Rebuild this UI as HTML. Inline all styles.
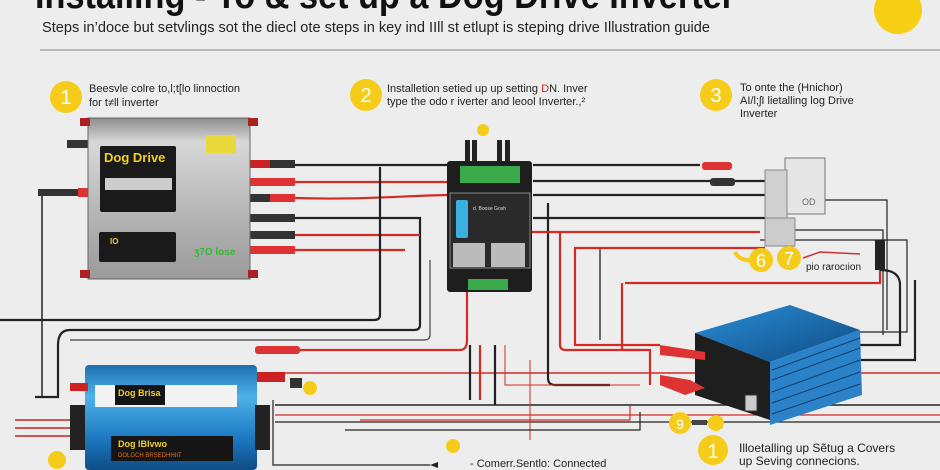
<!DOCTYPE html>
<html><head><meta charset="utf-8"><style>
html,body{margin:0;padding:0;background:#ededed;}
svg{display:block}
text{font-family:"Liberation Sans",sans-serif;}
</style></head><body>
<svg width="940" height="470" viewBox="0 0 940 470" xmlns="http://www.w3.org/2000/svg">
<defs>
<linearGradient id="silver" x1="0" y1="0" x2="0" y2="1"><stop offset="0" stop-color="#8c8c8c"/><stop offset="0.15" stop-color="#d8d8d8"/><stop offset="0.6" stop-color="#b5b5b5"/><stop offset="1" stop-color="#9a9a9a"/></linearGradient>
<linearGradient id="blue" x1="0" y1="0" x2="0" y2="1"><stop offset="0" stop-color="#1d6fb0"/><stop offset="0.3" stop-color="#4fb2ea"/><stop offset="0.7" stop-color="#1c78c0"/><stop offset="1" stop-color="#0f4d85"/></linearGradient>
<linearGradient id="blue2" x1="0" y1="0" x2="1" y2="1"><stop offset="0" stop-color="#2a8fd6"/><stop offset="1" stop-color="#0e4a84"/></linearGradient>
</defs>
<rect width="940" height="470" fill="#ededed"/>
<!-- title -->
<text x="35" y="8" font-size="38" font-weight="bold" fill="#111" textLength="700" lengthAdjust="spacingAndGlyphs">Installing - To &amp; set up a Dog Drive Inverter</text>
<text x="42" y="32" font-size="14.5" fill="#222" textLength="668" lengthAdjust="spacingAndGlyphs">Steps in’doce but setvlings sot the diecl ote steps in key ind IIll st etlupt is steping drive Illustration guide</text>
<circle cx="898" cy="10" r="24" fill="#f7cf14"/>
<line x1="40" y1="50" x2="940" y2="50" stroke="#aaa" stroke-width="1.5"/>
<!-- steps -->
<circle cx="66" cy="97" r="16" fill="#f6cc1a"/><text x="66" y="104" font-size="20" fill="#fff" text-anchor="middle">1</text>
<text x="89" y="92" font-size="11" fill="#222">Beesvle colre to,l;t[lo linnoction</text>
<text x="89" y="106" font-size="11" fill="#222">for t≠ll inverter</text>
<circle cx="366" cy="95" r="16" fill="#f6cc1a"/><text x="366" y="102" font-size="20" fill="#fff" text-anchor="middle">2</text>
<text x="387" y="92" font-size="11" fill="#222">Installetion setied up up setting <tspan fill="#d22">D</tspan>N.  Inver</text>
<text x="387" y="105" font-size="11" fill="#222">type the odo r iverter and leool  Inverter.,²</text>
<circle cx="716" cy="95" r="16" fill="#f6cc1a"/><text x="716" y="102" font-size="20" fill="#fff" text-anchor="middle">3</text>
<text x="740" y="91" font-size="11" fill="#222">To onte the (Hnichor)</text>
<text x="740" y="104" font-size="11" fill="#222">AI/l;ʃI lietalling log Drive</text>
<text x="740" y="117" font-size="11" fill="#222">Inverter</text>

<!-- wires -->
<g fill="none" stroke-width="2.2">
<path d="M295 165 H447" stroke="#222"/>
<path d="M295 182 H447" stroke="#d42a24"/>
<path d="M295 198 C360 200 400 196 447 195" stroke="#d42a24"/>
<path d="M295 218 H420 V325 Q420 330 414 330 H70 Q58 330 58 345 V397 H35" stroke="#222"/>
<path d="M295 235 H420" stroke="#d42a24"/>
<path d="M295 250 H405" stroke="#d42a24"/>
<path d="M380 167 V315 Q380 320 374 320 H0" stroke="#222"/>
<path d="M430 260 V335 Q430 340 424 340 H70" stroke="#444" stroke-width="1.2"/>
<path d="M42 192 V397" stroke="#222" stroke-width="1.5"/>
<path d="M300 350 H460 Q467 350 467 340 V292" stroke="#d42a24"/>
<path d="M270 373 H940" stroke="#d42a24" stroke-width="1.5"/>
<path d="M275 405 H940" stroke="#222" stroke-width="1.5"/>
<path d="M275 415 H940" stroke="#d42a24" stroke-width="1.2"/>
<path d="M275 422 H940" stroke="#222" stroke-width="1.2"/>
<path d="M273 400 V465 H430" stroke="#222" stroke-width="1.2"/>
<path d="M15 420 H85 M15 428 H85 M15 436 H85" stroke="#c22" stroke-width="1.5"/>
<path d="M533 165 H700" stroke="#222"/>
<path d="M533 181 H770" stroke="#222"/>
<path d="M533 195 H770" stroke="#222"/>
<path d="M533 218 H770" stroke="#222"/>
<path d="M548 203 V378 Q548 385 555 385 H610" stroke="#222"/>
<path d="M560 232 V345 Q560 350 566 350 H650 V385" stroke="#d42a24"/>
<path d="M575 248 V345 H660" stroke="#d42a24"/>
<path d="M470 232 H760" stroke="#d42a24"/>
<path d="M600 248 V340" stroke="#222" stroke-width="1.3"/>
<path d="M574 248 H765" stroke="#d42a24"/>
<path d="M622 283 V350 H640" stroke="#d42a24"/>
<path d="M625 283 H880 V265" stroke="#d42a24"/>
<path d="M810 200 H887 V330" stroke="#222" stroke-width="1.2"/>
<path d="M783 230 H883 V335" stroke="#222" stroke-width="1.2"/>
<path d="M760 240 H907 V332 H860" stroke="#222" stroke-width="1.2"/>
<path d="M880 270 Q900 270 900 285 V345 H860" stroke="#222"/>
<path d="M915 280 V360 H850" stroke="#222"/>
<path d="M470 345 V400" stroke="#222"/>
<path d="M480 345 V400" stroke="#d42a24"/>
<path d="M495 345 V405" stroke="#222"/>
<path d="M505 345 V385 H640" stroke="#d42a24" stroke-width="1"/>
<path d="M530 360 V440" stroke="#d42a24" stroke-width="1"/>
<path d="M360 420 H630 V405" stroke="#d42a24" stroke-width="1.2"/>
<path d="M345 430 H640 V412" stroke="#222" stroke-width="1.2"/>
</g>
<!-- connectors left -->
<g>
<rect x="250" y="160" width="20" height="8" fill="#c22"/><rect x="270" y="160" width="25" height="8" fill="#333"/>
<rect x="250" y="178" width="45" height="8" fill="#d33"/>
<rect x="250" y="194" width="20" height="8" fill="#333"/><rect x="270" y="194" width="25" height="8" fill="#d33"/>
<rect x="250" y="214" width="45" height="8" fill="#333"/>
<rect x="250" y="231" width="45" height="8" fill="#333"/>
<rect x="250" y="246" width="45" height="8" fill="#d33"/>
<rect x="38" y="189" width="42" height="7" fill="#333"/><rect x="78" y="188" width="12" height="9" fill="#d33"/>
<rect x="67" y="140" width="22" height="8" fill="#333"/>
<rect x="255" y="346" width="45" height="8" fill="#d33" rx="3"/>
<rect x="250" y="372" width="35" height="10" fill="#c22"/>
<circle cx="310" cy="388" r="7" fill="#f6cc1a"/>
<circle cx="57" cy="460" r="9" fill="#f6cc1a"/>
<circle cx="453" cy="446" r="7" fill="#f6cc1a"/>
<circle cx="483" cy="130" r="6" fill="#f6cc1a"/>
</g>
<!-- silver inverter -->
<rect x="88" y="118" width="162" height="161" fill="url(#silver)" stroke="#666"/>
<rect x="80" y="118" width="10" height="8" fill="#a22"/><rect x="248" y="118" width="10" height="8" fill="#a22"/>
<rect x="80" y="270" width="10" height="8" fill="#a22"/><rect x="248" y="270" width="10" height="8" fill="#a22"/>
<rect x="100" y="146" width="76" height="66" fill="#1a1a1a" rx="2"/>
<text x="104" y="162" font-size="13" font-weight="bold" fill="#f0d020">Dog Drive</text>
<rect x="105" y="178" width="67" height="12" fill="#ccc"/>
<rect x="99" y="232" width="77" height="30" fill="#1a1a1a" rx="2"/>
<text x="110" y="244" font-size="8" font-weight="bold" fill="#f0d020">IO</text>
<rect x="206" y="135" width="30" height="18" fill="#e8d83a"/>
<text x="194" y="255" font-size="10" font-weight="bold" fill="#3b3">ʒ7O lose</text>
<!-- controller -->
<rect x="465" y="140" width="5" height="22" fill="#222"/><rect x="472" y="140" width="5" height="22" fill="#222"/><rect x="497" y="140" width="5" height="22" fill="#222"/><rect x="505" y="140" width="5" height="22" fill="#222"/>
<rect x="447" y="161" width="85" height="131" fill="#1e1e1e" rx="3"/>
<rect x="460" y="166" width="60" height="17" fill="#3aaa4a"/>
<rect x="450" y="193" width="80" height="75" fill="#2a2a2a" stroke="#888"/>
<rect x="456" y="200" width="12" height="38" fill="#3ab0e0" rx="2"/>
<text x="473" y="210" font-size="5" fill="#ddd">d. Boose Gosh</text>
<rect x="453" y="243" width="32" height="24" fill="#bbb"/><rect x="491" y="243" width="34" height="24" fill="#bbb"/>
<rect x="468" y="279" width="40" height="11" fill="#3aaa4a"/>
<!-- right white box -->
<rect x="785" y="158" width="40" height="56" fill="#e6e6e6" stroke="#777"/>
<rect x="765" y="170" width="22" height="55" fill="#d0d0d0" stroke="#888"/>
<rect x="765" y="218" width="30" height="28" fill="#ccc" stroke="#888"/>
<text x="802" y="205" font-size="9" fill="#666">OD</text>
<rect x="702" y="162" width="30" height="8" fill="#d33" rx="3"/>
<rect x="710" y="178" width="25" height="8" fill="#333" rx="3"/>
<rect x="875" y="240" width="10" height="30" fill="#222"/>
<!-- 6 7 -->
<path d="M735 252 Q740 262 755 260" stroke="#f6cc1a" stroke-width="4" fill="none"/>
<circle cx="761" cy="260" r="12" fill="#f6cc1a"/><text x="761" y="267" font-size="18" fill="#fff" text-anchor="middle">6</text>
<circle cx="789" cy="258" r="12" fill="#f6cc1a"/><text x="789" y="265" font-size="18" fill="#fff" text-anchor="middle">7</text>
<path d="M803 258 L820 252 L860 254" stroke="#c33" stroke-width="1.5" fill="none"/>
<text x="806" y="270" font-size="10" fill="#222">pio rarocıion</text>
<!-- blue inverter right -->
<polygon points="695,333 790,305 860,330 770,362" fill="url(#blue2)"/>
<polygon points="695,333 770,362 770,420 695,395" fill="#1e1e1e"/>
<polygon points="770,362 860,330 862,395 770,425" fill="#2b82c8"/>
<g stroke="#0d3f70" stroke-width="1">
<line x1="772" y1="370" x2="860" y2="338"/><line x1="772" y1="380" x2="860" y2="348"/><line x1="772" y1="392" x2="860" y2="360"/><line x1="772" y1="403" x2="860" y2="372"/><line x1="772" y1="414" x2="860" y2="384"/>
</g>
<rect x="745" y="395" width="12" height="16" fill="#ccc" stroke="#333"/>
<path d="M660 345 L705 352 L705 360 L660 355 Z" fill="#d33"/>
<path d="M660 375 L690 380 L705 388 L685 395 L660 385 Z" fill="#d33"/>
<!-- blue inverter left -->
<rect x="85" y="365" width="172" height="105" fill="url(#blue)" rx="4"/>
<rect x="70" y="383" width="18" height="8" fill="#c22"/>
<rect x="70" y="405" width="15" height="45" fill="#222"/><rect x="255" y="405" width="15" height="45" fill="#222"/>
<rect x="95" y="385" width="142" height="22" fill="#f3f3f3"/>
<rect x="115" y="385" width="50" height="20" fill="#151515"/>
<text x="118" y="396" font-size="9" font-weight="bold" fill="#f0d020">Dog Brisa</text>
<rect x="111" y="436" width="122" height="25" fill="#151515"/>
<text x="118" y="447" font-size="9" font-weight="bold" fill="#f0d020">Dog IBIvwo</text>
<text x="118" y="457" font-size="6" fill="#e07020">DOLGCH BRSEDHHIIT</text>
<rect x="290" y="378" width="12" height="10" fill="#333"/>
<!-- bottom labels -->
<circle cx="680" cy="423" r="11" fill="#f6cc1a"/><text x="680" y="429" font-size="14" fill="#fff" text-anchor="middle">9</text>
<rect x="692" y="420" width="15" height="5" fill="#444"/>
<circle cx="716" cy="423" r="8" fill="#f6cc1a"/>
<circle cx="713" cy="450" r="15" fill="#f6cc1a"/><text x="713" y="458" font-size="20" fill="#fff" text-anchor="middle">1</text>
<text x="739" y="452" font-size="12" fill="#222">Illoetalling up Sẽtug a Covers</text>
<text x="739" y="465" font-size="12" fill="#222">up Seving connecions.</text>
<path d="M430 465 L438 462 L438 468 Z" fill="#222"/>
<text x="470" y="467" font-size="11" fill="#222">- Comerr.Sentlo: Connected</text>
</svg>
</body></html>
